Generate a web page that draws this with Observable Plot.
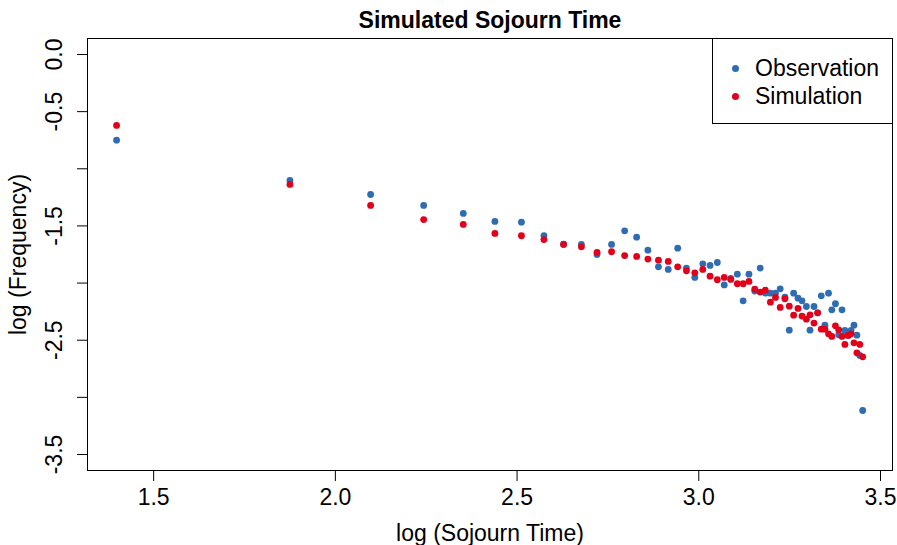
<!DOCTYPE html>
<html>
<head>
<meta charset="utf-8">
<script src="https://cdn.jsdelivr.net/npm/d3@7"></script>
<script src="https://cdn.jsdelivr.net/npm/@observablehq/plot@0.6"></script>
<style>
  body { margin: 0; background: #fff; font-family: "Liberation Sans", Arial, Helvetica, sans-serif; }
  #wrap { position: relative; width: 897px; height: 545px; overflow: hidden; }
  #title { position: absolute; left: 87px; width: 806px; top: 7px; text-align: center; font-weight: bold; font-size: 23px; line-height: 26px; color: #000; }
  #legend { position: absolute; left: 712px; top: 38px; width: 181px; height: 86px; border: 1px solid #000; background: #fff; box-sizing: border-box; }
  .item { position: absolute; left: 0; height: 26px; line-height: 26px; font-size: 23px; color: #000; }
  .item span.dot { position: absolute; left: 19px; top: 9.5px; width: 7px; height: 7px; border-radius: 50%; }
  .item span.lab { position: absolute; left: 42px; white-space: nowrap; }
</style>
</head>
<body>
<div id="wrap">
  <div id="chart"></div>
  <div id="title">Simulated Sojourn Time</div>
  <div id="legend"></div>
</div>
<script>
// log10 of sojourn-time bin centres
const logTime = [1.398, 1.875, 2.097, 2.243, 2.352, 2.439, 2.512, 2.574, 2.628, 2.677,
  2.720, 2.760, 2.796, 2.829, 2.860, 2.889, 2.916, 2.942, 2.966, 2.989,
  3.011, 3.031, 3.051, 3.070, 3.088, 3.106, 3.122, 3.138, 3.154, 3.169,
  3.183, 3.197, 3.211, 3.224, 3.237, 3.249, 3.261, 3.273, 3.284, 3.296,
  3.306, 3.317, 3.327, 3.337, 3.347, 3.357, 3.366, 3.376, 3.385, 3.394,
  3.402, 3.411, 3.419, 3.427, 3.435, 3.443, 3.451];
const observation = [-0.750, -1.102, -1.225, -1.321, -1.391, -1.461, -1.467, -1.584, -1.660, -1.662,
  -1.750, -1.662, -1.543, -1.598, -1.712, -1.858, -1.881, -1.695, -1.869, -1.951,
  -1.832, -1.846, -1.820, -2.016, -1.960, -1.922, -2.155, -1.922, -2.070, -1.869,
  -2.088, -2.088, -2.088, -2.050, -2.123, -2.412, -2.088, -2.132, -2.155, -2.205,
  -2.412, -2.205, -2.260, -2.112, -2.368, -2.088, -2.234, -2.181, -2.452, -2.234,
  -2.415, -2.458, -2.415, -2.368, -2.456, -2.633, -3.115];
const simulation = [-0.621, -1.137, -1.321, -1.444, -1.487, -1.566, -1.586, -1.619, -1.662, -1.683,
  -1.732, -1.726, -1.759, -1.767, -1.790, -1.800, -1.811, -1.858, -1.893, -1.910,
  -1.881, -1.940, -1.971, -1.951, -1.968, -2.006, -2.006, -1.986, -2.053, -2.079,
  -2.062, -2.167, -2.126, -2.213, -2.138, -2.202, -2.281, -2.222, -2.289, -2.316,
  -2.278, -2.350, -2.260, -2.403, -2.403, -2.444, -2.467, -2.374, -2.409, -2.467,
  -2.537, -2.458, -2.444, -2.523, -2.610, -2.537, -2.645];

const seriesNames = ["Observation", "Simulation"];
const seriesColors = ["#2f6db3", "#e2001a"];

const xTicks = [1.5, 2.0, 2.5, 3.0, 3.5];
const xTickLabels = ["1.5", "2.0", "2.5", "3.0", "3.5"];
const yTicks = [0, -0.5, -1.0, -1.5, -2.0, -2.5, -3.0, -3.5];
const yTickLabels = ["0.0", "-0.5", "", "-1.5", "", "-2.5", "", "-3.5"];

const xLab = new Map(xTicks.map((t, i) => [t, xTickLabels[i]]));
const yLab = new Map(yTicks.map((t, i) => [t, yTickLabels[i]]));

const obsData = logTime.map((x, i) => ({x, y: observation[i]}));
const simData = logTime.map((x, i) => ({x, y: simulation[i]}));

const font = '"Liberation Sans", Arial, Helvetica, sans-serif';

const chart = Plot.plot({
  width: 897,
  height: 545,
  marginLeft: 87,
  marginRight: 5,
  marginTop: 38,
  marginBottom: 75,
  style: {fontFamily: font, fontSize: "23px", color: "#000", background: "#fff", overflow: "visible"},
  x: {domain: [1.318, 3.533]},
  y: {domain: [-3.64, 0.14]},
  marks: [
    Plot.frame({stroke: "#000", strokeWidth: 1}),
    Plot.axisX({ticks: xTicks, tickFormat: d => xLab.get(d), tickSize: 11, tickPadding: 7,
      fontSize: 23, label: "log (Sojourn Time)", labelAnchor: "center", labelOffset: 70, labelArrow: "none"}),
    Plot.axisY({ticks: yTicks, tickFormat: d => yLab.get(d), tickSize: 10, tickPadding: 16, tickRotate: -90,
      fontSize: 23, label: "log (Frequency)", labelAnchor: "center", labelOffset: 78, labelArrow: "none"}),
    Plot.dot(obsData, {x: "x", y: "y", r: 3.4, fill: seriesColors[0], stroke: "none"}),
    Plot.dot(simData, {x: "x", y: "y", r: 3.4, fill: seriesColors[1], stroke: "none"})
  ]
});
document.getElementById("chart").appendChild(chart);

const legend = document.getElementById("legend");
seriesNames.forEach((name, i) => {
  const item = document.createElement("div");
  item.className = "item";
  item.style.top = (16 + i * 28) + "px";
  item.innerHTML = `<span class="dot" style="background:${seriesColors[i]}"></span><span class="lab">${name}</span>`;
  legend.appendChild(item);
});
</script>
</body>
</html>
